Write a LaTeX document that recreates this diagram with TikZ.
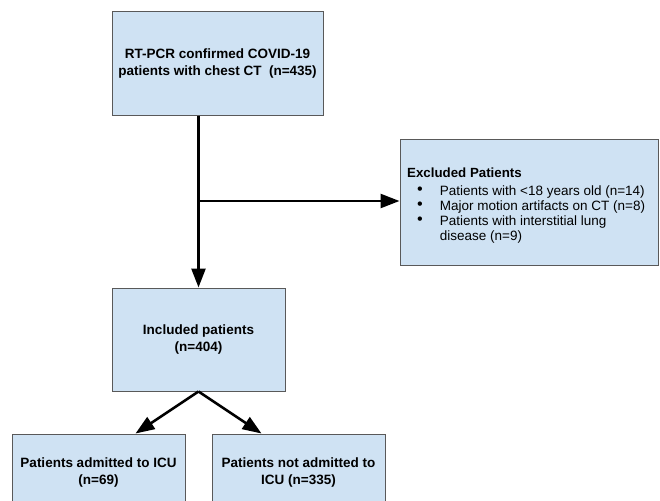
\documentclass[tikz,border=0pt]{standalone}
\usepackage{fontspec}
\setmainfont{Liberation Sans}
\usetikzlibrary{arrows.meta,calc}
\definecolor{boxfill}{HTML}{CFE2F3}
\definecolor{boxline}{HTML}{595959}
\tikzset{
  flowbox/.style={draw=boxline, line width=1pt, fill=boxfill, rectangle, align=center,
    font=\fontsize{13.5}{17}\selectfont\bfseries, inner sep=0pt},
  flowarrow/.style={line width=2.6pt, draw=black, -{Triangle[length=19pt,width=14pt]}},
}
\newcommand{\exbul}{\hspace{10pt}\raisebox{0.5pt}{\scalebox{1.2}{\textbullet}}}
\begin{document}
\begin{tikzpicture}[x=1pt,y=-1pt]
\clip (0,0) rectangle (660,500);
\fill[white] (0,0) rectangle (660,500);
\node[flowbox, minimum width=211pt, minimum height=103pt] (top) at (217.5,63.5)
  {RT-PCR confirmed COVID-19\\patients with chest CT\ \ (n=435)};
\node[flowbox, minimum width=258pt, minimum height=126pt] (excl) at (529,202) {};
\node[anchor=north west, inner sep=0pt, align=left,
  font=\fontsize{13.5}{15}\selectfont] (excltext) at (407,166.5)
  {\begin{tabular}{@{}l@{\hspace{17pt}}l@{}}
   \multicolumn{2}{@{}l@{}}{\fontsize{13.3}{15}\selectfont\bfseries Excluded Patients}\\[3pt]
   \exbul & Patients with <18 years old (n=14)\\
   \exbul & Major motion artifacts on CT (n=8)\\
   \exbul & Patients with interstitial lung\\
    & disease (n=9)
   \end{tabular}};
\node[flowbox, minimum width=173pt, minimum height=103pt] (inc) at (198.5,339.5)
  {Included patients\\(n=404)};
\node[flowbox, minimum width=173pt, minimum height=103pt] (left) at (98.5,485.5) {};
\node[flowbox, minimum width=173pt, minimum height=103pt] (right) at (298.5,485.5) {};
\node[font=\fontsize{13.5}{17}\selectfont\bfseries, align=center, anchor=north] (ltext) at (98.5,454)
  {Patients admitted to ICU\\(n=69)};
\node[font=\fontsize{13.5}{17}\selectfont\bfseries, align=center, anchor=north] (rtext) at (298.5,454)
  {Patients not admitted to\\ICU (n=335)};
\draw[flowarrow] (top.south -| inc.north) -- (inc.north);
\coordinate (branch) at (inc.north |- excl.west);
\draw[flowarrow] ([yshift=1pt]branch) -- ([yshift=1pt]excl.west);
\draw[flowarrow] (inc.south) -- ([xshift=-50pt]left.north east);
\draw[flowarrow] (inc.south) -- ([xshift=50pt]right.north west);
\end{tikzpicture}
\end{document}
